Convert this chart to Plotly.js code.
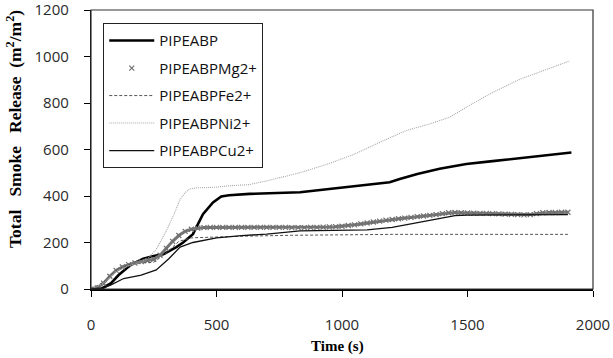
<!DOCTYPE html>
<html>
<head>
<meta charset="utf-8">
<script src="https://cdn.plot.ly/plotly-3.0.1.min.js"></script>
<style>html,body{margin:0;padding:0;background:#fff;}#chart{width:613px;height:358px;}</style>
</head>
<body>
<div id="chart"></div>
<script>
// PIPEABP (thick black)
const tBase = [0,40,80,110,160,208,250,290,340,367,406,446,486,519,550,632,833,1005,1100,1190,1230,1300,1389,1495,1600,1693,1800,1914];
const yBase = [0,0,25,60,105,130,142,150,180,200,236,322,372,398,403,409,416,437,447,459,473,495,517,538,550,560,573,587];

// PIPEABPMg2+ (grey x markers)
const tMg = [0,25,50,75,100,125,150,175,200,225,250,275,300,325,350,375,400,425,450,475,500,525,550,575,600,625,650,675,700,725,750,775,800,825,850,875,900,925,950,975,1000,1025,1050,1075,1100,1125,1150,1175,1200,1225,1250,1275,1300,1325,1350,1375,1400,1425,1450,1475,1500,1525,1550,1575,1600,1625,1650,1675,1700,1725,1750,1775,1800,1825,1850,1875,1900];
const yMg = [0,5,25,55,80,95,105,112,118,122,128,145,175,205,230,248,257,262,264,265,265,265,265,265,265,265,265,265,265,265,265,265,264,264,264,265,265,266,267,268,270,273,276,280,284,288,292,296,299,302,305,308,311,314,317,320,324,328,329,328,327,326,325,325,324,323,322,321,320,319,320,324,328,329,329,330,330];

// PIPEABPFe2+ (dashed)
const tFe = [0,50,100,150,200,250,300,350,400,500,600,800,1000,1200,1500,1900];
const yFe = [0,30,80,105,112,115,155,205,220,224,227,231,234,235,235,235];

// PIPEABPNi2+ (light grey dotted)
const tNi = [0,50,100,150,200,230,260,300,330,355,375,393,420,500,550,630,700,833,950,1045,1151,1257,1350,1429,1521,1600,1706,1838,1907];
const yNi = [0,25,75,100,115,135,170,250,320,385,415,430,435,438,444,449,465,500,540,578,631,682,710,739,798,845,901,955,981];

// PIPEABPCu2+ (thin black)
const tCu = [0,50,80,130,200,260,310,355,406,450,500,600,700,833,1000,1100,1200,1300,1400,1450,1500,1700,1900];
const yCu = [0,5,18,45,60,82,130,180,200,210,220,230,236,250,252,254,265,285,308,316,318,318,320];

const xTicks = [0,500,1000,1500,2000];
const yTicks = [0,200,400,600,800,1000,1200];

const names = ['PIPEABP','PIPEABPMg2+','PIPEABPFe2+','PIPEABPNi2+','PIPEABPCu2+'];
const xTitle = 'Time (s)';
const yTitle = 'Total\u00a0\u00a0 Smoke\u00a0\u00a0 Release\u00a0 (m<sup>2</sup>/m<sup>2</sup>)';

const traces = [
  {x:tBase, y:yBase, name:names[0], mode:'lines', line:{color:'#000', width:2.6}, legendgroup:'a'},
  {x:tMg, y:yMg, name:names[1], mode:'lines', line:{color:'#777', width:3}, showlegend:false, legendgroup:'b', hoverinfo:'skip'},
  {x:tMg, y:yMg, name:names[1], mode:'markers', marker:{symbol:'x-thin', size:5, color:'#707070', line:{width:1.2, color:'#707070'}}, legendgroup:'b'},
  {x:tFe, y:yFe, name:names[2], mode:'lines', line:{color:'#555', width:1, dash:'3px,2px'}, legendgroup:'c'},
  {x:tNi, y:yNi, name:names[3], mode:'lines', line:{color:'#a8a8a8', width:1.1, dash:'1px,1px'}, legendgroup:'d'},
  {x:tCu, y:yCu, name:names[4], mode:'lines', line:{color:'#111', width:1.3}, legendgroup:'e'}
];

const layout = {
  width:613, height:358,
  margin:{l:91, r:20, t:10, b:69},
  paper_bgcolor:'#fff', plot_bgcolor:'#fff',
  showlegend:true,
  legend:{x:0.024, y:0.953, xanchor:'left', yanchor:'top', bgcolor:'#fff', bordercolor:'#222', borderwidth:1.2,
    font:{family:'Open Sans', size:15, color:'#111'}, traceorder:'grouped', tracegroupgap:5, itemwidth:45},
  xaxis:{range:[0,2000], tickvals:xTicks, ticktext:xTicks.map(String), showgrid:false, zeroline:false,
    showline:true, linecolor:'#000', linewidth:2, ticks:'outside', ticklen:6, tickcolor:'#000', tickwidth:1,
    ticklabelstandoff:15, ticklabeloverflow:'allow',
    tickfont:{family:'Open Sans', size:15, color:'#2a2a2a'}},
  yaxis:{range:[0,1200], tickvals:yTicks, ticktext:yTicks.map(String), showgrid:false, zeroline:false,
    showline:true, linecolor:'#000', linewidth:1.2, ticks:'outside', ticklen:6, tickcolor:'#000', tickwidth:1,
    ticklabelstandoff:12, ticklabeloverflow:'allow',
    tickfont:{family:'Open Sans', size:15, color:'#2a2a2a'}},
  annotations:[
    {text:xTitle, xref:'paper', yref:'paper', x:0.5, y:0, xshift:-5, yshift:-57, xanchor:'center', yanchor:'middle', showarrow:false,
      font:{family:'Liberation Serif', size:15, color:'#000', weight:'bold'}},
    {text:yTitle, xref:'paper', yref:'paper', x:0, y:0, xshift:-77, yshift:160, xanchor:'center', yanchor:'middle', textangle:-90, showarrow:false,
      font:{family:'Liberation Serif', size:17.5, color:'#000', weight:'bold'}}
  ],
  shapes:[
    {type:'rect', xref:'paper', yref:'paper', x0:0, x1:1, y0:0, y1:1, line:{color:'#333', width:1.2}, fillcolor:'rgba(0,0,0,0)', layer:'above'}
  ]
};

Plotly.newPlot('chart', traces, layout, {displayModeBar:false, staticPlot:true});
</script>
</body>
</html>
